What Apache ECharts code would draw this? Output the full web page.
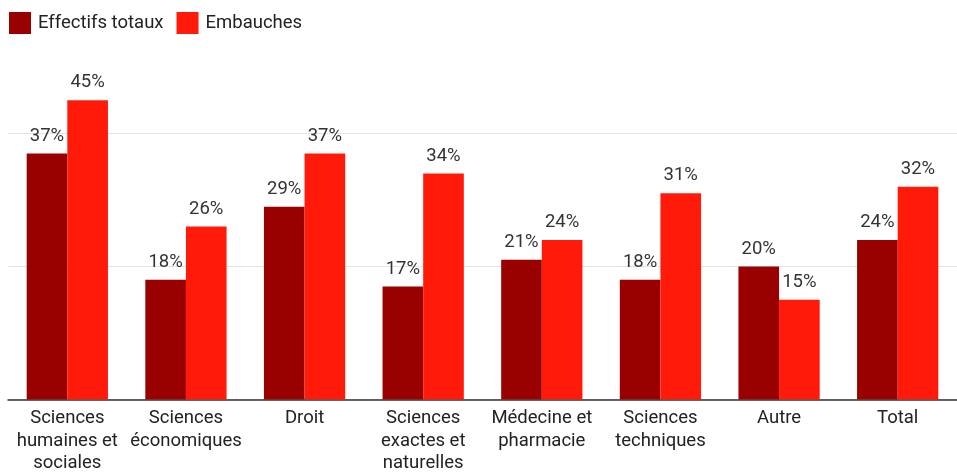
<!DOCTYPE html>
<html>
<head>
<meta charset="utf-8">
<script src="https://cdn.jsdelivr.net/npm/echarts@6/dist/echarts.min.js"></script>
<style>html,body{margin:0;padding:0;background:#fff;}#c{width:957px;height:475px;}</style>
</head>
<body>
<div id="c"></div>
<script>
const categories = ['Sciences\nhumaines et\nsociales', 'Sciences\néconomiques', 'Droit', 'Sciences\nexactes et\nnaturelles', 'Médecine et\npharmacie', 'Sciences\ntechniques', 'Autre', 'Total'];
const effectifs = [37, 18, 29, 17, 21, 18, 20, 24];
const embauches = [45, 26, 37, 34, 24, 31, 15, 32];
const seriesNames = ['Effectifs totaux', 'Embauches'];

const chart = echarts.init(document.getElementById('c'));
const labelStyle = {show: true, position: 'top', distance: 8, formatter: '{c}%', fontSize: 18.5, color: '#333', fontFamily: 'Roboto'};
chart.setOption({
  animation: false,
  textStyle: {fontFamily: 'Roboto'},
  legend: {
    left: 9, top: 12, padding: 0, itemWidth: 22, itemHeight: 22, itemGap: 13, icon: 'rect',
    textStyle: {fontSize: 18.5, color: '#222', fontFamily: 'Roboto', padding: [0, 0, 0, 2]},
    data: seriesNames
  },
  grid: {left: 8, width: 958, top: 67, bottom: 70},
  xAxis: {
    type: 'category', data: categories,
    axisLine: {lineStyle: {color: '#333', width: 1.5}},
    axisTick: {show: false},
    axisLabel: {fontSize: 18.5, color: '#222', lineHeight: 22.5, margin: 8, interval: 0, fontFamily: 'Roboto'}
  },
  yAxis: {
    type: 'value', min: 0, max: 50, interval: 20,
    axisLabel: {show: false}, axisLine: {show: false}, axisTick: {show: false},
    splitLine: {showMaxLine: false, lineStyle: {color: '#e2e2e2', width: 1}}
  },
  series: [
    {name: seriesNames[0], type: 'bar', data: effectifs, barGap: '0%', barCategoryGap: '31.5%', itemStyle: {color: '#990000'}, label: labelStyle},
    {name: seriesNames[1], type: 'bar', data: embauches, itemStyle: {color: '#ff1a0a'}, label: labelStyle}
  ]
});
</script>
</body>
</html>
